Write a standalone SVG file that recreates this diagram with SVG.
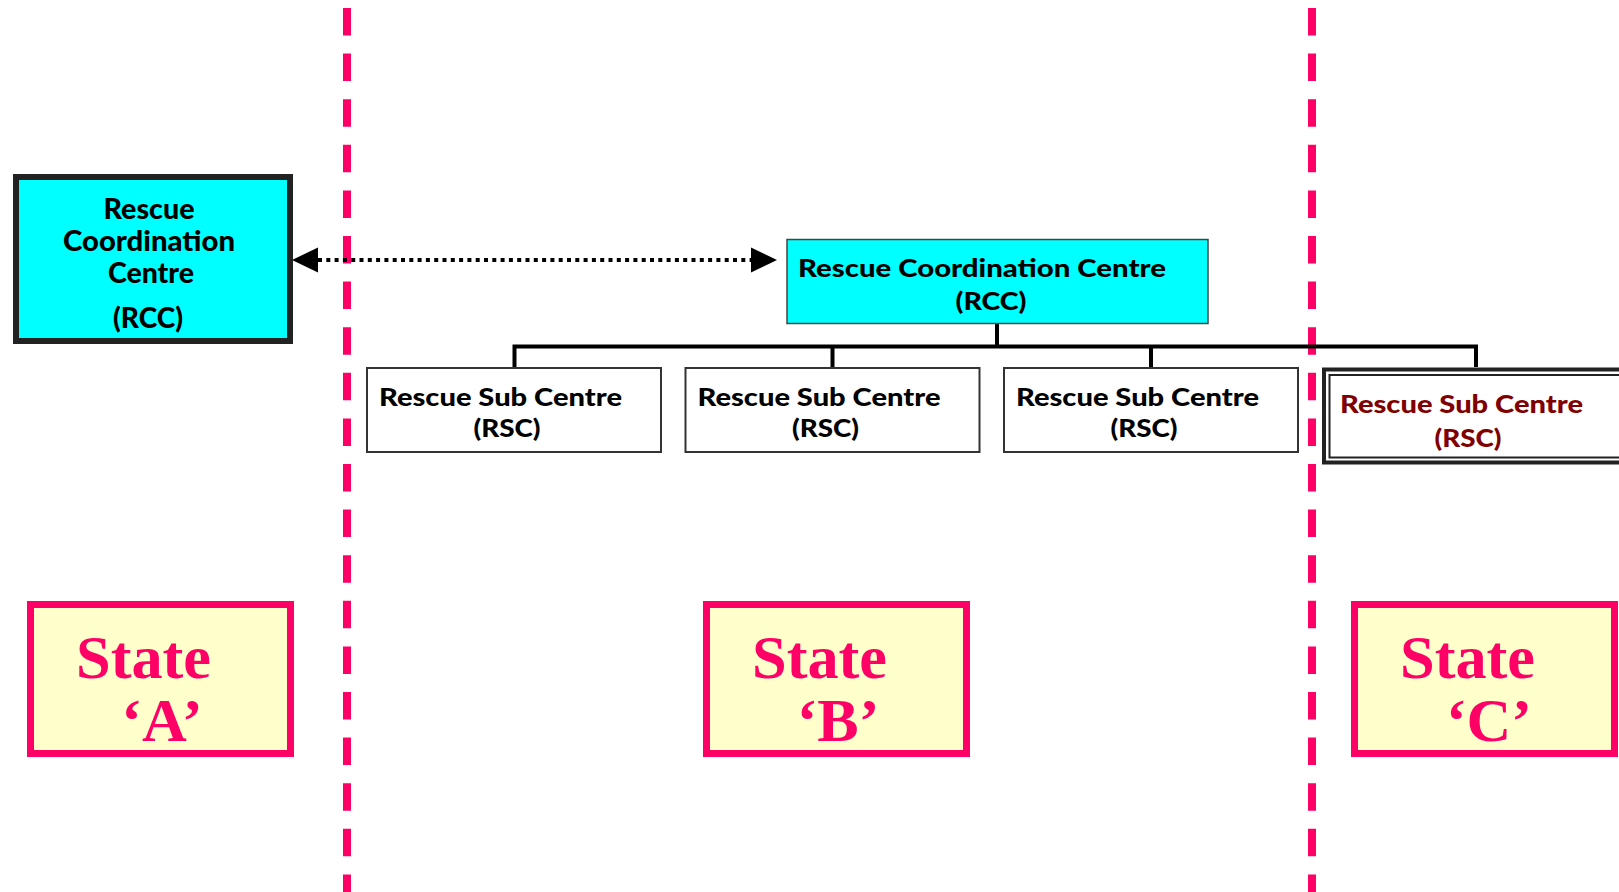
<svg xmlns="http://www.w3.org/2000/svg" width="1619" height="892" viewBox="0 0 1619 892">
  <defs>
    <marker id="ah" markerUnits="userSpaceOnUse" markerWidth="26" markerHeight="26" viewBox="0 0 26 26" refX="0" refY="13" orient="auto-start-reverse">
      <path d="M0,0.5 L26,13 L0,25.5 z" fill="#000"/>
    </marker>
    <style>
      .sep { stroke: #FF0066; stroke-width: 8; stroke-dasharray: 27.5 18.1; fill: none; }
      .rcc { fill: #00FFFF; }
      .rsc { fill: #FFFFFF; stroke: #333333; stroke-width: 2; }
      .state { fill: #FFFFCC; stroke: #FF0066; stroke-width: 7; }
      .sans { font-family: Lato, "Open Sans", "Liberation Sans", sans-serif; font-weight: 900; fill: #000; }
      .big { font-size: 29px; }
      .mid { font-size: 24px; }
      .serif { font-family: "Liberation Serif", "Times New Roman", serif; font-weight: bold; font-size: 62px; fill: #FF0066; }
      .bus { stroke: #000; stroke-width: 4; fill: none; }
    </style>
  </defs>
  <rect x="0" y="0" width="1619" height="892" fill="#FFFFFF"/>

  <g id="separators">
    <line class="sep" x1="347" y1="8" x2="347" y2="892"/>
    <line class="sep" x1="1312" y1="8" x2="1312" y2="892"/>
  </g>

  <g id="connectors">
    <line x1="318" y1="260" x2="751" y2="260" stroke="#000" stroke-width="4" stroke-dasharray="4 4.3" marker-start="url(#ah)" marker-end="url(#ah)"/>
    <path class="bus" d="M997,324 V346.5 M514.5,368 V346.5 H1476 V367 M832.5,346.5 V368 M1151,346.5 V368"/>
  </g>

  <g id="rcc-a">
    <rect class="rcc" x="16" y="177" width="274" height="164" stroke="#222222" stroke-width="6"/>
    <text class="sans big" x="149" y="219" text-anchor="middle" textLength="91" lengthAdjust="spacingAndGlyphs">Rescue</text>
    <text class="sans big" x="149" y="251" text-anchor="middle" textLength="172" lengthAdjust="spacingAndGlyphs">Coordination</text>
    <text class="sans big" x="151" y="283" text-anchor="middle" textLength="86" lengthAdjust="spacingAndGlyphs">Centre</text>
    <text class="sans big" x="148" y="328" text-anchor="middle" textLength="70" lengthAdjust="spacingAndGlyphs">(RCC)</text>
  </g>

  <g id="rcc-b">
    <rect class="rcc" x="787" y="239.5" width="421" height="84" stroke="#444444" stroke-width="1.5"/>
    <text class="sans mid" x="798" y="277" textLength="368" lengthAdjust="spacingAndGlyphs">Rescue Coordination Centre</text>
    <text class="sans mid" x="991" y="310" text-anchor="middle" textLength="71" lengthAdjust="spacingAndGlyphs">(RCC)</text>
  </g>

  <g id="rsc-1">
    <rect class="rsc" x="367" y="368" width="294" height="84"/>
    <text class="sans mid" x="379" y="406" textLength="243" lengthAdjust="spacingAndGlyphs">Rescue Sub Centre</text>
    <text class="sans mid" x="507" y="437" text-anchor="middle" textLength="67" lengthAdjust="spacingAndGlyphs">(RSC)</text>
  </g>

  <g id="rsc-2">
    <rect class="rsc" x="685.5" y="368" width="294" height="84"/>
    <text class="sans mid" x="697.5" y="406" textLength="243" lengthAdjust="spacingAndGlyphs">Rescue Sub Centre</text>
    <text class="sans mid" x="825.5" y="437" text-anchor="middle" textLength="67" lengthAdjust="spacingAndGlyphs">(RSC)</text>
  </g>

  <g id="rsc-3">
    <rect class="rsc" x="1004" y="368" width="294" height="84"/>
    <text class="sans mid" x="1016" y="406" textLength="243" lengthAdjust="spacingAndGlyphs">Rescue Sub Centre</text>
    <text class="sans mid" x="1144" y="437" text-anchor="middle" textLength="67" lengthAdjust="spacingAndGlyphs">(RSC)</text>
  </g>

  <g id="rsc-c">
    <rect x="1324" y="369.5" width="320" height="93" fill="#FFFFFF" stroke="#222222" stroke-width="4"/>
    <rect x="1329.5" y="375" width="320" height="82.5" fill="none" stroke="#222222" stroke-width="2"/>
    <text class="sans mid" x="1340" y="413" textLength="243" lengthAdjust="spacingAndGlyphs" style="fill:#800000">Rescue Sub Centre</text>
    <text class="sans mid" x="1468" y="447" text-anchor="middle" textLength="67" lengthAdjust="spacingAndGlyphs" style="fill:#800000">(RSC)</text>
  </g>

  <g id="state-a">
    <rect class="state" x="30.5" y="604.5" width="260" height="149"/>
    <text class="serif" x="76" y="678" textLength="135" lengthAdjust="spacingAndGlyphs">State</text>
    <text class="serif" x="162" y="741" text-anchor="middle">‘A’</text>
  </g>

  <g id="state-b">
    <rect class="state" x="706.5" y="604.5" width="260" height="149"/>
    <text class="serif" x="752" y="678" textLength="135" lengthAdjust="spacingAndGlyphs">State</text>
    <text class="serif" x="838" y="741" text-anchor="middle">‘B’</text>
  </g>

  <g id="state-c">
    <rect class="state" x="1354.5" y="604.5" width="260" height="149"/>
    <text class="serif" x="1400" y="678" textLength="135" lengthAdjust="spacingAndGlyphs">State</text>
    <text class="serif" x="1489" y="741" text-anchor="middle">‘C’</text>
  </g>
</svg>
